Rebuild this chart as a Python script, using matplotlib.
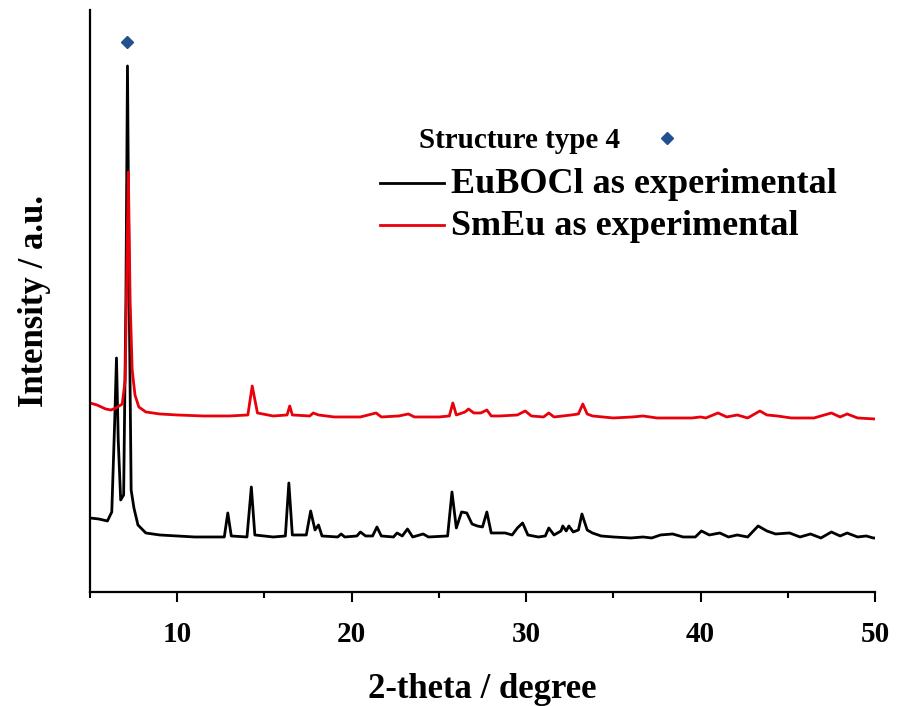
import matplotlib
matplotlib.use('Agg')
import matplotlib.pyplot as plt
from matplotlib.ticker import MultipleLocator

plt.rcParams['font.family'] = ['Liberation Serif', 'DejaVu Serif']
plt.rcParams['font.weight'] = 'bold'

# EuBOCl pattern (2-theta, intensity a.u.)
tt_eu = [5.0, 5.5, 6.0, 6.25, 6.42, 6.52, 6.62, 6.76, 6.93, 7.06, 7.15, 7.25, 7.36, 7.52, 7.75,
         8.2, 9.0, 10.0, 11.0, 12.0, 12.7, 12.9, 13.1, 14.0, 14.25, 14.45, 15.5, 16.2, 16.4, 16.6,
         17.4, 17.65, 17.9, 18.1, 18.3, 19.2, 19.4, 19.6, 20.3, 20.5, 20.8, 21.2, 21.45, 21.7,
         22.4, 22.6, 22.9, 23.2, 23.5, 24.1, 24.4, 25.5, 25.75, 26.0, 26.3, 26.6, 26.9, 27.2,
         27.5, 27.75, 28.0, 28.4, 28.8, 29.2, 29.5, 29.8, 30.1, 30.7, 31.1, 31.3, 31.6, 32.0,
         32.1, 32.3, 32.45, 32.7, 33.0, 33.2, 33.5, 33.8, 34.3, 35.0, 36.0, 36.7, 37.2, 37.7,
         38.4, 39.0, 39.7, 40.05, 40.5, 41.1, 41.6, 42.1, 42.7, 43.3, 43.8, 44.3, 45.1, 45.7,
         46.3, 46.9, 47.5, 48.0, 48.4, 49.0, 49.5, 49.9, 50.0]
int_eu = [74, 73, 71, 80, 172, 234, 152, 92, 97, 292, 526, 292, 102, 84, 67,
          59, 57, 56, 55, 55, 55, 79, 56, 55, 105, 57, 55, 56, 109, 57,
          57, 81, 62, 67, 56, 55, 58, 55, 56, 60, 56, 56, 65, 56,
          55, 59, 56, 63, 55, 58, 55, 56, 100, 64, 80, 79, 68, 66,
          65, 80, 59, 59, 59, 57, 64, 69, 57, 55, 56, 64, 57, 61,
          66, 61, 66, 60, 62, 78, 62, 59, 56, 55, 54, 55, 54, 57,
          58, 55, 55, 61, 57, 59, 55, 57, 55, 66, 61, 58, 59, 55,
          58, 54, 60, 56, 59, 55, 56, 54, 54]

# SmEu pattern
tt_sm = [5.0, 5.4, 5.9, 6.2, 6.5, 6.85, 7.02, 7.13, 7.2, 7.3, 7.42, 7.58, 7.8, 8.2, 9.0,
         10.0, 11.5, 13.0, 14.05, 14.3, 14.6, 15.5, 16.3, 16.45, 16.6, 17.6, 17.8, 18.1, 19.0,
         20.5, 21.4, 21.7, 22.7, 23.25, 23.6, 25.0, 25.6, 25.8, 26.0, 26.5, 26.7, 27.0, 27.4,
         27.75, 28.0, 28.5, 29.5, 29.95, 30.3, 31.0, 31.3, 31.6, 32.6, 33.0, 33.25, 33.5, 33.8,
         35.0, 36.1, 36.7, 37.5, 38.5, 39.5, 40.0, 40.3, 41.0, 41.5, 42.1, 42.7, 43.4, 43.8,
         44.4, 45.2, 46.5, 47.5, 48.0, 48.4, 49.0, 50.0]
int_sm = [189, 187, 183, 182, 184, 188, 212, 342, 420, 292, 222, 197, 185, 180, 178,
          177, 176, 176, 177, 206, 179, 176, 177, 186, 177, 176, 179, 177, 175,
          175, 179, 175, 176, 178, 175, 175, 176, 189, 177, 180, 183, 179, 179,
          182, 176, 176, 177, 181, 176, 175, 179, 175, 177, 178, 188, 178, 176,
          174, 175, 176, 174, 174, 174, 175, 174, 179, 175, 177, 174, 181, 177,
          176, 174, 174, 179, 175, 178, 174, 173]

marker_tt = 7.1
marker_int = 550

fig = plt.figure(figsize=(8.97, 7.06), dpi=100)
ax = fig.add_axes([0.1003, 0.1615, 0.8752, 0.8244])

ax.plot(tt_eu, int_eu, color='black', lw=2.0)
ax.plot(tt_sm, int_sm, color='#e8000b', lw=2.0)
ax.plot([marker_tt], [marker_int], 'D', color='#23508e', ms=6)

# legend drawn by hand
ax.text(23.85, 444, 'Structure type 4', fontsize=21, fontweight='bold', va='baseline')
ax.plot([38.1], [454], 'D', color='#23508e', ms=6)
ax.plot([21.6, 25.3], [409, 409], color='black', lw=2.0)
ax.text(25.7, 399, 'EuBOCl as experimental', fontsize=26, fontweight='bold', va='baseline')
ax.plot([21.6, 25.3], [367, 367], color='#e8000b', lw=2.0)
ax.text(25.7, 357, 'SmEu as experimental', fontsize=26, fontweight='bold', va='baseline')

ax.set_xlim(5, 50)
ax.set_ylim(0, 582)
ax.xaxis.set_major_locator(MultipleLocator(10))
ax.xaxis.set_minor_locator(MultipleLocator(5))
ax.tick_params(axis='x', which='major', direction='out', length=7, width=1.5, labelsize=21, pad=14)
ax.tick_params(axis='x', which='minor', direction='out', length=4, width=1.5)
ax.set_yticks([])
for s in ['top', 'right']:
    ax.spines[s].set_visible(False)
for s in ['left', 'bottom']:
    ax.spines[s].set_linewidth(1.6)

ax.set_xlabel('2-theta / degree', fontsize=25, fontweight='bold', labelpad=18)
ax.set_ylabel('Intensity / a.u.', fontsize=25, fontweight='bold', labelpad=28)

fig.savefig('out.png', dpi=100)
